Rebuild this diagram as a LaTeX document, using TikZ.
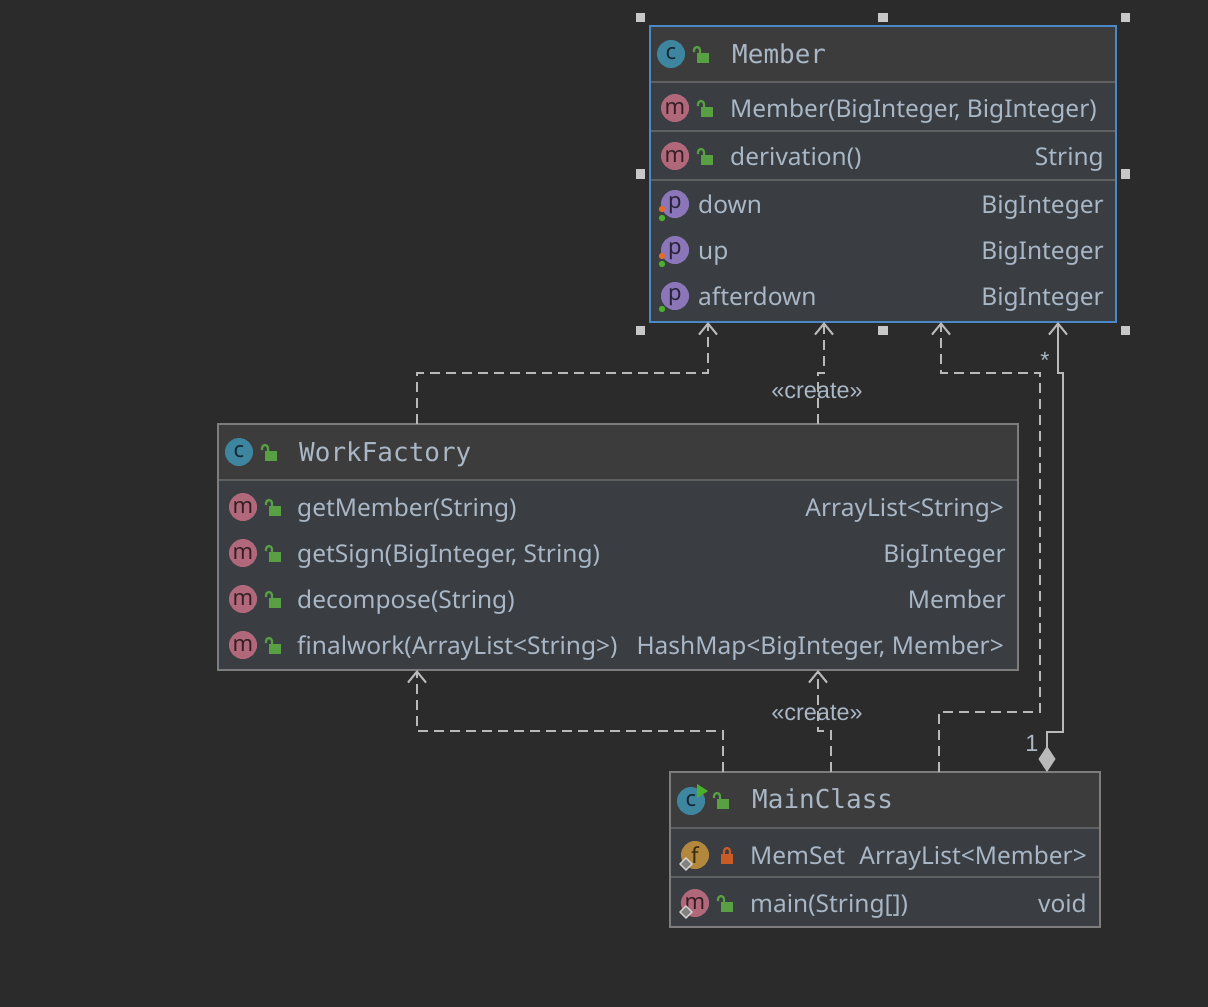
\documentclass[tikz,border=0pt]{standalone}
\usepackage{fontspec}
\setmainfont{Noto Sans}
\newfontfamily\monotitle{DejaVu Sans Mono}
\newfontfamily\arrowlabel{Liberation Sans}
\usetikzlibrary{arrows.meta}
\usetikzlibrary{calc}
\definecolor{bgdark}{HTML}{2B2B2B}
\definecolor{headgrey}{HTML}{3C3C3C}
\definecolor{bodygrey}{HTML}{3A3E42}
\definecolor{framegrey}{HTML}{7D7D7D}
\definecolor{sepgrey}{HTML}{5E6062}
\definecolor{selblue}{HTML}{4A88C7}
\definecolor{handlegrey}{HTML}{C8C8C8}
\definecolor{codeblue}{HTML}{A9B7C6}
\definecolor{linkgrey}{HTML}{B9B9B9}
\definecolor{iconc}{HTML}{3E86A0}
\definecolor{iconm}{HTML}{B0687A}
\definecolor{iconp}{HTML}{8A76B8}
\definecolor{iconf}{HTML}{B3883C}
\definecolor{lockgreen}{HTML}{59A044}
\definecolor{lockred}{HTML}{C95B26}
\definecolor{dotorange}{HTML}{E36C2A}
\definecolor{dotgreen}{HTML}{4BB02E}

\begin{document}
\begin{tikzpicture}[x=1pt,y=-1pt,
  classbody/.style={rectangle,fill=bodygrey,anchor=north west,inner sep=0pt,outer sep=0pt},
  classhead/.style={rectangle,fill=headgrey,anchor=north west,inner sep=0pt,outer sep=0pt},
  classframe/.style={draw=framegrey,line width=2pt},
  selframe/.style={draw=selblue,line width=2pt},
  sepline/.style={draw=sepgrey,line width=2.5pt},
  hdlsq/.style={rectangle,fill=handlegrey,minimum size=9.5pt,inner sep=0pt},
  icon/.style={circle,inner sep=0pt,minimum size=28pt,font=\fontsize{22}{24}\selectfont},
  picon/.style={icon,fill=iconp,text=iconp!30!black,text height=9pt,text depth=1pt},
  classtitle/.style={anchor=base west,inner sep=0pt,text=codeblue,font=\monotitle\fontsize{26}{30}\selectfont},
  rowtext/.style={anchor=base west,inner sep=0pt,text=codeblue,font=\fontsize{24.5}{28}\selectfont},
  typetext/.style={anchor=base east,inner sep=0pt,text=codeblue,font=\fontsize{24.5}{28}\selectfont},
  lbl/.style={inner sep=0pt,text=codeblue,font=\arrowlabel\fontsize{23.5}{25}\selectfont},
  dep/.style={draw=linkgrey,line width=2pt,dash pattern=on 10pt off 6pt,-{Straight Barb[length=11pt,width=18pt]}},
  aggr/.style={draw=linkgrey,line width=2pt,arrows={Diamond[length=26pt,width=17pt]-Straight Barb[length=11pt,width=18pt]}},
  openlock/.pic={
    \fill[lockgreen] (-4,-1) rectangle (8,9);
    \draw[lockgreen,line width=2.2pt] (-1,-1) -- (-1,-4) arc[start angle=0,end angle=-180,radius=3] -- (-7,-2);
  },
  shutlock/.pic={
    \fill[lockred] (-6,-1) rectangle (6,9);
    \draw[lockred,line width=2.2pt] (-3,-1) -- (-3,-4) arc[start angle=180,end angle=360,radius=3] -- (3,-1);
  }
]
\useasboundingbox (0,0) rectangle (1208,1007);
\fill[bgdark] (0,0) rectangle (1208,1007);

\node[classbody,minimum width=466pt,minimum height=296pt] at (650,26) (mem) {};
\node[classhead,minimum width=466pt,minimum height=56pt] at (mem.north west) (memhead) {};
\draw[sepline] (memhead.south west) -- (memhead.south east);
\draw[sepline] ($(mem.north west)+(0,105)$) -- ($(mem.north east)+(0,105)$);
\draw[sepline] ($(mem.north west)+(0,154)$) -- ($(mem.north east)+(0,154)$);
\draw[selframe] (mem.north west) rectangle (mem.south east);
\node[icon,fill=iconc,text=iconc!30!black] at (671,54) (memc) {c};
\pic at (701,54) {openlock};
\node[classtitle] at (732,63) (memtitle) {Member};
\node[icon,fill=iconm,text=iconm!30!black] at (675,108) (memm1) {m};
\pic at (705,108) {openlock};
\node[rowtext] at (730,117) (memctor) {Member(BigInteger, BigInteger)};
\node[icon,fill=iconm,text=iconm!30!black] at (675,156) (memm2) {m};
\pic at (705,156) {openlock};
\node[rowtext] at (730,165) (memderiv) {derivation()};
\node[typetext] at (1104,165) (memderivt) {String};
\node[picon] at (675,204) (memp1) {p};
\node[rowtext] at (698,213) (memdown) {down};
\node[typetext] at (1104,213) (memdownt) {BigInteger};
\node[picon] at (675,250) (memp2) {p};
\node[rowtext] at (698,259) (memup) {up};
\node[typetext] at (1104,259) (memupt) {BigInteger};
\node[picon] at (675,296) (memp3) {p};
\node[rowtext] at (698,305) (memafter) {afterdown};
\node[typetext] at (1104,305) (memaftert) {BigInteger};
\fill[dotorange] (662,209) circle (3.2);
\fill[dotgreen] (662,218) circle (3.2);
\fill[dotorange] (662,256) circle (3.2);
\fill[dotgreen] (662,264) circle (3.2);
\fill[dotgreen] (662,309) circle (3.2);
\node[inner sep=0pt,minimum width=485pt,minimum height=313pt] at (mem.center) (memsel) {};
\foreach \a [count=\k] in {north west,north,north east,west,east,south west,south,south east}
  \node[hdlsq] at (memsel.\a) (hdl\k) {};

\node[classbody,minimum width=800pt,minimum height=246pt] at (218,424) (wf) {};
\node[classhead,minimum width=800pt,minimum height=56pt] at (wf.north west) (wfhead) {};
\draw[sepline] (wfhead.south west) -- (wfhead.south east);
\draw[classframe] (wf.north west) rectangle (wf.south east);
\node[icon,fill=iconc,text=iconc!30!black] at (239,452) (wfc) {c};
\pic at (269,452) {openlock};
\node[classtitle] at (299,461) (wftitle) {WorkFactory};
\node[icon,fill=iconm,text=iconm!30!black] at (243,507) (wfm1) {m};
\pic at (273,507) {openlock};
\node[rowtext] at (297,516) (wfget) {getMember(String)};
\node[typetext] at (1004,516) (wfgett) {ArrayList<String>};
\node[icon,fill=iconm,text=iconm!30!black] at (243,553) (wfm2) {m};
\pic at (273,553) {openlock};
\node[rowtext] at (297,562) (wfsign) {getSign(BigInteger, String)};
\node[typetext] at (1006,562) (wfsignt) {BigInteger};
\node[icon,fill=iconm,text=iconm!30!black] at (243,599) (wfm3) {m};
\pic at (273,599) {openlock};
\node[rowtext] at (297,608) (wfdec) {decompose(String)};
\node[typetext] at (1006,608) (wfdect) {Member};
\node[icon,fill=iconm,text=iconm!30!black] at (243,645) (wfm4) {m};
\pic at (273,645) {openlock};
\node[rowtext] at (297,654) (wffinal) {finalwork(ArrayList<String>)};
\node[typetext] at (1004,654) (wffinalt) {HashMap<BigInteger, Member>};

\node[classbody,minimum width=430pt,minimum height=155pt] at (670,772) (mc) {};
\node[classhead,minimum width=430pt,minimum height=56pt] at (mc.north west) (mchead) {};
\draw[sepline] (mchead.south west) -- (mchead.south east);
\draw[sepline] ($(mc.north west)+(0,105)$) -- ($(mc.north east)+(0,105)$);
\draw[classframe] (mc.north west) rectangle (mc.south east);
\node[icon,fill=iconc,text=iconc!30!black] at (691,801) (mcc) {c};
\fill[dotgreen] (697,784) -- (708,791) -- (697,798) -- cycle;
\pic at (721,800) {openlock};
\node[classtitle] at (752,808) (mctitle) {MainClass};
\node[icon,fill=iconf,text=iconf!30!black] at (695,855) (mcf) {f};
\pic at (727,855) {shutlock};
\node[rowtext] at (750,864) (mcset) {MemSet};
\node[typetext] at (1087,864) (mcsett) {ArrayList<Member>};
\node[icon,fill=iconm,text=iconm!30!black] at (695,903) (mcm) {m};
\pic at (725,903) {openlock};
\node[rowtext] at (750,912) (mcmain) {main(String[])};
\node[typetext] at (1087,912) (mcmaint) {void};
\filldraw[fill=linkgrey!70!black,draw=white!85!black,line width=1.2pt] (686,858) -- (692,864) -- (686,870) -- (680,864) -- cycle;
\filldraw[fill=linkgrey!70!black,draw=white!85!black,line width=1.2pt] (686,906) -- (692,912) -- (686,918) -- (680,912) -- cycle;

\draw[dep] ($(wf.north west)+(199,0)$) -- ++(0,-51) -| ($(mem.south west)+(58,0)$);
\draw[dep] ($(wf.north west)+(600,0)$) -- ++(0,-51) -| ($(mem.south west)+(174,0)$);
\draw[dep] ($(mc.north west)+(269,0)$) -- ++(0,-60) -- ++(101,0) -- ++(0,-339) -| ($(mem.south west)+(291,0)$);
\draw[aggr] ($(mc.north west)+(377,0)$) -- ++(0,-40) -- ++(16,0) -- ++(0,-359) -| ($(mem.south west)+(408,0)$);
\draw[dep] ($(mc.north west)+(53,0)$) -- ++(0,-41) -| ($(wf.south west)+(199,0)$);
\draw[dep] ($(mc.north west)+(161,0)$) -- ++(0,-41) -| ($(wf.south west)+(600,0)$);
\node[lbl] at (817,391) (crt1) {«create»};
\node[lbl] at (817,713) (crt2) {«create»};
\node[lbl] at (1045,360) (multmany) {*};
\node[lbl] at (1032,743) (multone) {1};
\end{tikzpicture}
\end{document}
